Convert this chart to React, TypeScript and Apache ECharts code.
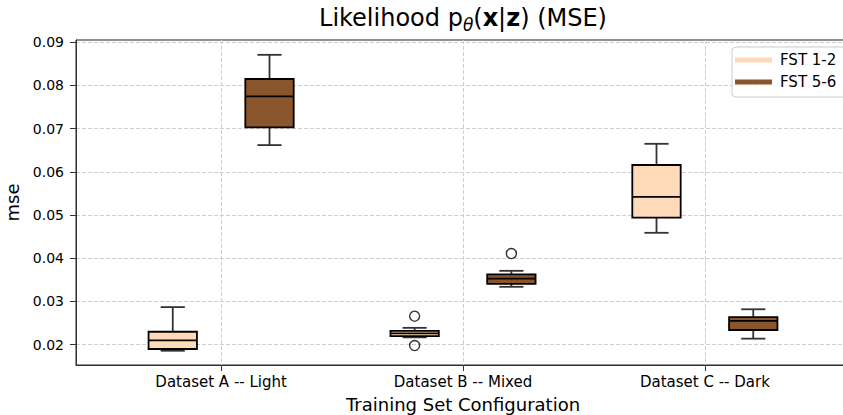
import React, { useEffect, useRef } from 'react';
import * as echarts from 'echarts';

const categories = ['Dataset A -- Light', 'Dataset B -- Mixed', 'Dataset C -- Dark'];
const seriesNames = ['FST 1-2', 'FST 5-6'];
const seriesColors = ['#FFDAB9', '#8B552B'];

// [min, q1, median, q3, max] for each category
const fst12Stats = [
  [0.0186, 0.0190, 0.0210, 0.0230, 0.0287],
  [0.0217, 0.0220, 0.0226, 0.0232, 0.0239],
  [0.0459, 0.0494, 0.0542, 0.0616, 0.0665],
];
const fst56Stats = [
  [0.0662, 0.0703, 0.0775, 0.0815, 0.0871],
  [0.0334, 0.0341, 0.0353, 0.0363, 0.0371],
  [0.0214, 0.0234, 0.0255, 0.0264, 0.0282],
];
// [category index, value]
const fst12Outliers = [
  [1, 0.0266],
  [1, 0.0198],
];
const fst56Outliers = [[1, 0.0411]];

const yTicks = [0.02, 0.03, 0.04, 0.05, 0.06, 0.07, 0.08, 0.09];

const FONT = 'DejaVu Sans';
const GROUP_OFFSET = 0.2;
const BOX_WIDTH = 0.2;

export default function App() {
  const ref = useRef<HTMLDivElement>(null);

  useEffect(() => {
    document.body.style.margin = '0';
    const chart = echarts.init(ref.current!, null, { renderer: 'svg' });
    const catPositions = categories.map((_, i) => i + 1);

    const makeRender = (color: string) => (params: any, api: any) => {
      const x = api.value(0);
      const mn = api.value(1);
      const q1 = api.value(2);
      const md = api.value(3);
      const q3 = api.value(4);
      const mx = api.value(5);
      const pMin = api.coord([x, mn]);
      const pQ1 = api.coord([x, q1]);
      const pMd = api.coord([x, md]);
      const pQ3 = api.coord([x, q3]);
      const pMax = api.coord([x, mx]);
      const halfW = api.size([BOX_WIDTH, 0])[0] / 2;
      const cx = pMin[0];
      const wStyle = { stroke: '#333', lineWidth: 1.8 };
      return {
        type: 'group',
        children: [
          { type: 'line', shape: { x1: cx, y1: pQ3[1], x2: cx, y2: pMax[1] }, style: wStyle },
          { type: 'line', shape: { x1: cx, y1: pQ1[1], x2: cx, y2: pMin[1] }, style: wStyle },
          { type: 'line', shape: { x1: cx - halfW / 2, y1: pMax[1], x2: cx + halfW / 2, y2: pMax[1] }, style: wStyle },
          { type: 'line', shape: { x1: cx - halfW / 2, y1: pMin[1], x2: cx + halfW / 2, y2: pMin[1] }, style: wStyle },
          {
            type: 'rect',
            shape: { x: cx - halfW, y: pQ3[1], width: halfW * 2, height: pQ1[1] - pQ3[1] },
            style: { fill: color, stroke: '#000', lineWidth: 1.8 },
          },
          { type: 'line', shape: { x1: cx - halfW, y1: pMd[1], x2: cx + halfW, y2: pMd[1] }, style: { stroke: '#000', lineWidth: 1.8 } },
        ],
      };
    };

    const boxData = (stats: number[][], offset: number) =>
      stats.map((s, i) => [i + 1 + offset, ...s]);
    const outData = (outs: number[][], offset: number) =>
      outs.map(([ci, v]) => [ci + 1 + offset, v]);

    const outlierStyle = {
      type: 'scatter',
      symbol: 'circle',
      symbolSize: 10,
      itemStyle: { color: 'rgba(255,255,255,0)', borderColor: '#000', borderWidth: 1.4 },
      z: 5,
    };

    const option: any = {
      animation: false,
      backgroundColor: '#fff',
      textStyle: { fontFamily: FONT },
      title: {
        text: '{a|Likelihood p}{s|θ}{a|(}{b|x}{a||}{b|z}{a|) (MSE)}',
        left: 463,
        textAlign: 'center',
        top: 3,
        padding: 0,
        textStyle: {
          fontWeight: 'normal',
          rich: {
            a: { fontSize: 24, fontFamily: FONT, color: '#000', fontWeight: 'normal', lineHeight: 30 },
            b: { fontSize: 24, fontFamily: FONT, color: '#000', fontWeight: 'bold', lineHeight: 30 },
            s: { fontSize: 17, fontFamily: FONT, color: '#000', fontWeight: 'normal', fontStyle: 'italic', lineHeight: 17, verticalAlign: 'bottom' },
          },
        },
      },
      legend: {
        orient: 'vertical',
        left: 732,
        top: 47,
        padding: [5, 40, 7, 3],
        itemGap: 6,
        itemWidth: 37,
        itemHeight: 5,
        backgroundColor: 'rgba(255,255,255,0.8)',
        borderColor: '#cccccc',
        borderWidth: 1,
        borderRadius: 4,
        itemStyle: { borderWidth: 0 },
        textStyle: { fontSize: 15, fontFamily: FONT, color: '#000', lineHeight: 16, padding: [0, 0, 0, 3] },
        data: seriesNames.map((n) => ({ name: n, icon: 'rect' })),
      },
      grid: {
        left: 76,
        right: -7,
        top: 40,
        bottom: 50,
        show: true,
        borderColor: '#222',
        borderWidth: 1,
        outerBoundsMode: 'none',
        containLabel: false,
      },
      xAxis: {
        type: 'value',
        min: 0.4,
        max: 3.6,
        name: 'Training Set Configuration',
        nameLocation: 'middle',
        nameGap: 30,
        nameTextStyle: { fontSize: 18, fontFamily: FONT, color: '#000' },
        axisLine: { show: true, lineStyle: { color: '#333', width: 1 } },
        axisTick: { show: true, length: 6, customValues: catPositions, lineStyle: { color: '#333' } },
        axisLabel: {
          customValues: catPositions,
          formatter: (v: number) => categories[Math.round(v) - 1] ?? '',
          fontSize: 15,
          fontFamily: FONT,
          color: '#000',
          margin: 9,
        },
        splitLine: { show: true, lineStyle: { type: [4, 2], color: '#cfcfcf', width: 1 } },
      },
      yAxis: {
        type: 'value',
        min: 0.0153,
        max: 0.09053,
        name: 'mse',
        nameLocation: 'middle',
        nameGap: 45,
        nameTextStyle: { fontSize: 18, fontFamily: FONT, color: '#000' },
        axisLine: { show: true, lineStyle: { color: '#333', width: 1 } },
        axisTick: { show: true, length: 6, customValues: yTicks, lineStyle: { color: '#333' } },
        axisLabel: {
          customValues: yTicks,
          formatter: (v: number) => v.toFixed(2),
          fontSize: 14,
          fontFamily: FONT,
          color: '#000',
          margin: 12,
        },
        splitLine: { show: true, lineStyle: { type: [4, 2], color: '#cfcfcf', width: 1 } },
      },
      series: [
        {
          name: seriesNames[0],
          type: 'custom',
          itemStyle: { color: seriesColors[0] },
          renderItem: makeRender(seriesColors[0]),
          encode: { x: 0, y: [1, 2, 3, 4, 5] },
          data: boxData(fst12Stats, -GROUP_OFFSET),
          z: 3,
        },
        {
          name: seriesNames[1],
          type: 'custom',
          itemStyle: { color: seriesColors[1] },
          renderItem: makeRender(seriesColors[1]),
          encode: { x: 0, y: [1, 2, 3, 4, 5] },
          data: boxData(fst56Stats, GROUP_OFFSET),
          z: 3,
        },
        { ...outlierStyle, name: 'out12', data: outData(fst12Outliers, -GROUP_OFFSET) },
        { ...outlierStyle, name: 'out56', data: outData(fst56Outliers, GROUP_OFFSET) },
      ],
    };

    chart.setOption(option);
    return () => chart.dispose();
  }, []);

  return <div ref={ref} style={{ width: 843, height: 415 }} />;
}
